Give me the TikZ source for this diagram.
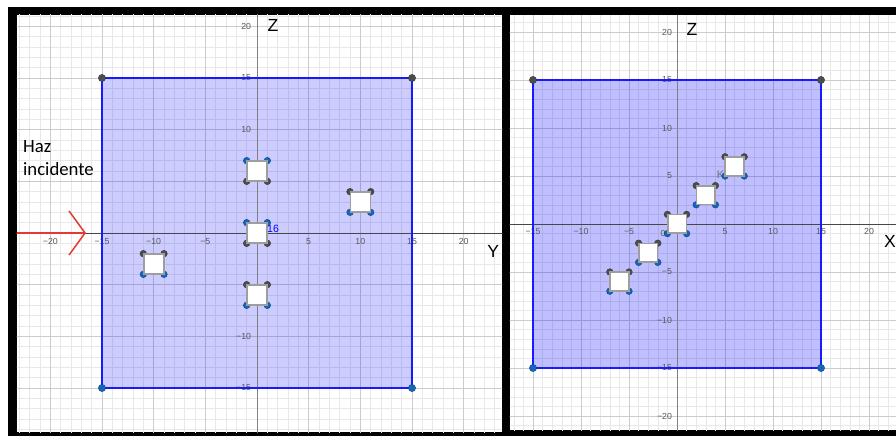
\documentclass[tikz,border=0pt]{standalone}
\usepackage{fontspec}
\setmainfont{Liberation Sans}
\newfontfamily\calibri{Carlito}
\usetikzlibrary{arrows.meta}

\definecolor{edgeblue}{RGB}{25,25,255}
\definecolor{ptblue}{RGB}{21,101,192}
\definecolor{ptgray}{RGB}{77,77,77}
\definecolor{beamred}{RGB}{229,57,53}

\begin{document}
\begin{tikzpicture}[
    minorgrid/.style={black!9, line width=0.35pt},
    majorgrid/.style={black!20, line width=0.5pt},
    haxis/.style={black!72, line width=0.8pt},
    vaxis/.style={black!50, line width=0.8pt},
    ticklab/.style={font=\fontsize{7.5}{9}\selectfont, text=black!65, inner sep=0pt},
    axislab/.style={font=\fontsize{15}{17}\selectfont},
    planeedge/.style={draw=edgeblue, line width=0.06cm},
    cellL/.style={draw=black!38, fill=white, line width=0.05cm, minimum size=0.6cm, inner sep=0pt},
    cellR/.style={cellL, minimum size=0.56cm},
    beam/.style={beamred, line width=0.045cm, -{Straight Barb[length=0.48cm, width=1.32cm]}},
  ]
  \useasboundingbox (0,0) rectangle (26.88,13.08);
  \fill[black] (0.24,0) rectangle (26.88,12.87);

  % plano YZ
  \begin{scope}[shift={(7.71,6.09)}, x=0.31cm, y=0.31cm]
    \clip (-23.23,-19.26) rectangle (23.72,21.10);
    \fill[white] (-23.23,-19.26) rectangle (23.72,21.10);
    \draw[minorgrid, step=1] (-24,-20) grid (24,22);
    \draw[majorgrid, step=5] (-24,-20) grid (24,22);
    \coordinate (la) at (-15,15);
    \coordinate (lb) at (15,15);
    \coordinate (lc) at (15,-15);
    \coordinate (ld) at (-15,-15);
    \fill[blue, fill opacity=0.2] (la) -- (lb) -- (lc) -- (ld) -- cycle;
    \draw[haxis] (-24,0) -- (24,0);
    \draw[vaxis] (0,-20) -- (0,22);
    \foreach \t in {-20,-15,-10,-5,5,10,15,20}
      \node[ticklab, anchor=north] at (\t,-0.5) {\ifnum\t<0 −\the\numexpr-\t\relax\else\t\fi};
    \foreach \t in {-15,-10,10,15,20}
      \node[ticklab, anchor=east] at (-0.55,\t) {\ifnum\t<0 −\the\numexpr-\t\relax\else\t\fi};
    \draw[planeedge] (la) -- (lb) -- (lc) -- (ld) -- cycle;
    \fill[ptgray, draw=black!80, line width=0.3pt] (la) circle[radius=0.11cm] (lb) circle[radius=0.11cm];
    \fill[ptblue, draw=ptblue!60!black, line width=0.3pt] (lc) circle[radius=0.11cm] (ld) circle[radius=0.11cm];

    \node[axislab] (zl) at (1.55,20.13) {Z};
    \node[axislab] (yl) at (22.85,-1.74) {Y};
    \node[font=\fontsize{9}{10}\selectfont, text=blue, inner sep=0pt] (pl) at (1.55,0.39) {16};

    \coordinate (beamstart) at (-23.3,0);
    \coordinate (beamend) at (-16.55,0);
    \draw[beam] (beamstart) -- (beamend);
    \node[font=\calibri\fontsize{16}{19.6}\selectfont, align=left, anchor=base west, inner sep=0pt]
      (haz) at (-22.65,5.61) {Haz\\incidente};

    \foreach \x/\y/\t/\b [count=\i] in {0/6/ptblue/ptgray, 0/0/ptblue/ptgray, 10/3/ptgray/ptblue,
        -10/-3/ptgray/ptblue, 0/-6/ptgray/ptblue} {
      \filldraw[fill=\t, draw=\t!60!black, line width=0.3pt]
        (\x-1,\y+1) circle[radius=0.1cm] (\x+1,\y+1) circle[radius=0.1cm];
      \filldraw[fill=\b, draw=\b!60!black, line width=0.3pt]
        (\x-1,\y-1) circle[radius=0.1cm] (\x+1,\y-1) circle[radius=0.1cm];
      \node[cellL] (l\i) at (\x,\y) {};
    }
  \end{scope}

  % plano XZ
  \begin{scope}[shift={(20.31,6.36)}, x=0.288cm, y=0.288cm]
    \clip (-17.40,-21.46) rectangle (22.81,21.77);
    \fill[white] (-17.40,-21.46) rectangle (22.81,21.77);
    \draw[minorgrid, step=1] (-18,-22) grid (23,22);
    \draw[majorgrid, step=5] (-18,-22) grid (23,22);
    \coordinate (ra) at (-15,15);
    \coordinate (rb) at (15,15);
    \coordinate (rc) at (15,-15);
    \coordinate (rd) at (-15,-15);
    \fill[blue, fill opacity=0.25] (ra) -- (rb) -- (rc) -- (rd) -- cycle;
    \draw[haxis] (-18,0) -- (23,0);
    \draw[vaxis] (0,-22) -- (0,22);
    \foreach \t in {-15,-10,-5,5,10,15,20}
      \node[ticklab, anchor=north] at (\t,-0.45) {\ifnum\t<0 −\the\numexpr-\t\relax\else\t\fi};
    \foreach \t in {-20,-15,-10,-5,5,10,15,20}
      \node[ticklab, anchor=east] at (-0.5,\t) {\ifnum\t<0 −\the\numexpr-\t\relax\else\t\fi};
    \node[ticklab] (o) at (-1.46,-0.94) {0};
    \draw[planeedge] (ra) -- (rb) -- (rc) -- (rd) -- cycle;
    \fill[ptgray, draw=black!80, line width=0.3pt] (ra) circle[radius=0.11cm] (rb) circle[radius=0.11cm];
    \fill[ptblue, draw=ptblue!60!black, line width=0.3pt] (rc) circle[radius=0.11cm] (rd) circle[radius=0.11cm];

    \node[axislab] (zr) at (1.56,20.31) {Z};
    \node[axislab] (xr) at (22.19,-1.77) {X};
    \node[font=\fontsize{9.5}{11}\selectfont, text=black!55, inner sep=0pt] (k) at (4.53,5.10) {K};

    \foreach \x/\y [count=\i] in {-6/-6, -3/-3, 0/0, 3/3, 6/6} {
      \filldraw[fill=ptgray, draw=black!80, line width=0.3pt]
        (\x-1,\y+1) circle[radius=0.1cm] (\x+1,\y+1) circle[radius=0.1cm];
      \filldraw[fill=ptblue, draw=ptblue!60!black, line width=0.3pt]
        (\x-1,\y-1) circle[radius=0.1cm] (\x+1,\y-1) circle[radius=0.1cm];
      \node[cellR] (r\i) at (\x,\y) {};
    }
  \end{scope}
\end{tikzpicture}
\end{document}
